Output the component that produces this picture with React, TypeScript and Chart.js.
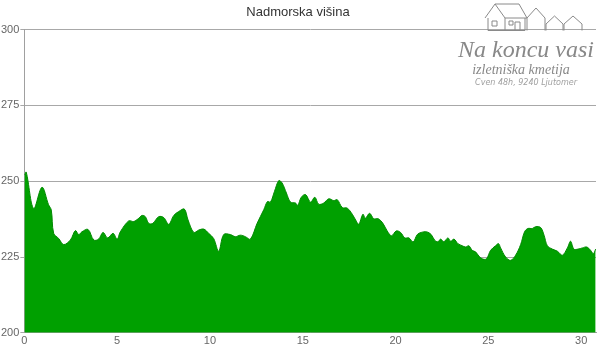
import React, { useEffect, useRef } from "react";
import { Chart, registerables } from "chart.js";

Chart.register(...registerables);

const chartTitle = "Nadmorska višina";
const yTicks = [200, 225, 250, 275, 300];
const xTickStep = 5;

const distanceKm = [
  0, 0.1, 0.5, 0.95, 1.3, 1.45, 1.58, 1.85, 2.12, 2.48, 2.75, 2.93, 3.1, 3.43, 3.74, 4.0, 4.24, 4.49, 4.78, 5.0,
  5.17, 5.62, 5.89, 6.13, 6.34, 6.52, 6.7, 6.92, 7.24, 7.51, 7.78, 8.05, 8.32, 8.62, 8.82, 9.13, 9.4, 9.67, 9.93,
  10.2, 10.47, 10.74, 11.1, 11.37, 11.64, 11.91, 12.18, 12.54, 12.9, 13.1, 13.26, 13.48, 13.71, 13.89, 14.12,
  14.34, 14.61, 14.73, 14.92, 15.15, 15.42, 15.65, 15.86, 16.13, 16.4, 16.67, 16.86, 17.13, 17.4, 17.67, 17.85,
  18.02, 18.24, 18.38, 18.6, 18.83, 19.07, 19.32, 19.55, 19.78, 20.04, 20.27, 20.5, 20.72, 20.95, 21.17, 21.38,
  21.67, 21.92, 22.1, 22.28, 22.43, 22.6, 22.82, 22.97, 23.15, 23.36, 23.6, 23.77, 23.95, 24.13, 24.31, 24.49,
  24.67, 24.9, 25.12, 25.39, 25.55, 25.66, 25.93, 26.2, 26.47, 26.74, 26.95, 27.13, 27.37, 27.55, 27.82, 28.0,
  28.18, 28.45, 28.72, 28.99, 29.26, 29.43, 29.61, 29.83, 30.07, 30.3, 30.51, 30.66, 30.78,
];

const elevationM = [
  252, 253, 241, 248, 242.3, 240.5, 232.8, 231.1, 229.1, 230.6, 233.7, 232.4, 233.3, 234.1, 230.6, 230.9, 233.1,
  231.3, 232.8, 230.9, 233.3, 236.9, 236.7, 237.6, 238.7, 238.3, 236.1, 236.1, 238.3, 238, 235.8, 238.7, 240,
  240.8, 237.2, 233.1, 233.9, 234.2, 232.8, 231.1, 226.9, 232.4, 232.4, 231.7, 232.2, 231.7, 230.9, 236.1, 240.6,
  243.3, 243.1, 246.7, 250.2, 249.4, 246.1, 243.1, 242.8, 242, 244.7, 245.6, 243.1, 244.7, 242.4, 242.8, 244.2,
  243.6, 243.9, 241.3, 241.1, 239.1, 237.2, 235.8, 239.1, 237.8, 239.4, 237.6, 237.6, 236.1, 233.6, 232, 233.6,
  233.1, 231.3, 231.3, 230, 232.4, 233.1, 233.3, 232.4, 230.6, 230, 230.9, 230, 231.3, 230.2, 230.9, 229.4, 228.7,
  228.3, 228.7, 227.2, 226.7, 225.3, 224.4, 224.4, 227.2, 228.7, 229.4, 228, 225, 223.9, 225.6, 229.1, 233.3,
  234.4, 234.4, 235, 234.7, 232.2, 228.7, 227.6, 226.9, 225.6, 228, 230.2, 227.6, 227.6, 228, 228.3, 227.2, 226.1,
  227.6,
];

const logoTitle = "Na koncu vasi";
const logoSubtitle = "izletniška kmetija";
const logoAddress = "Cven 48h, 9240 Ljutomer";

const logoPlugin = {
  id: "logo",
  afterDraw(chart: any) {
    const ctx = chart.ctx as CanvasRenderingContext2D;
    ctx.save();
    ctx.strokeStyle = "#8a8a8a";
    ctx.fillStyle = "#888";
    ctx.lineWidth = 1;
    // big house
    ctx.beginPath();
    ctx.moveTo(485, 18);
    ctx.lineTo(495, 4);
    ctx.lineTo(505, 18);
    ctx.moveTo(495, 4);
    ctx.lineTo(519, 4);
    ctx.lineTo(527, 18);
    ctx.lineTo(505, 18);
    ctx.moveTo(488, 18);
    ctx.lineTo(488, 30.5);
    ctx.lineTo(525, 30.5);
    ctx.lineTo(525, 18);
    ctx.moveTo(505, 18);
    ctx.lineTo(505, 30.5);
    ctx.rect(492, 21, 5, 5);
    ctx.rect(509, 21, 4, 4);
    ctx.rect(515, 22, 5, 8.5);
    ctx.stroke();
    // small houses
    const houses = [
      [527, 545, 18, 8],
      [546, 563, 24, 16],
      [564, 582, 24, 16],
    ];
    houses.forEach(([l, r, eave, peak]) => {
      ctx.beginPath();
      ctx.moveTo(l, 30.5);
      ctx.lineTo(l, eave);
      ctx.lineTo((l + r) / 2, peak);
      ctx.lineTo(r, eave);
      ctx.lineTo(r, 30.5);
      ctx.stroke();
    });
    ctx.textAlign = "center";
    ctx.textBaseline = "alphabetic";
    ctx.font = "italic 24px 'Liberation Serif', serif";
    ctx.fillText(logoTitle, 526, 57);
    ctx.font = "italic 14px 'Liberation Serif', serif";
    ctx.fillText(logoSubtitle, 521, 74);
    ctx.font = "italic 8px 'DejaVu Sans', sans-serif";
    ctx.fillStyle = "#a0a0a0";
    ctx.fillText(logoAddress, 526, 85);
    ctx.restore();
  },
};

export default function App() {
  const canvasRef = useRef<HTMLCanvasElement | null>(null);

  useEffect(() => {
    if (!canvasRef.current) return;
    const points = distanceKm.map((x, i) => ({ x, y: elevationM[i] }));
    const chart = new Chart(canvasRef.current, {
      type: "line",
      data: {
        datasets: [
          {
            data: points,
            backgroundColor: "#00a000",
            borderColor: "#008a00",
            borderWidth: 1,
            fill: "start",
            pointRadius: 0,
            tension: 0.35,
          },
        ],
      },
      options: {
        animation: false,
        responsive: false,
        layout: { padding: { left: 0, right: 4, top: 0, bottom: 0 } },
        plugins: {
          legend: { display: false },
          tooltip: { enabled: false },
          title: {
            display: true,
            text: chartTitle,
            color: "#333",
            font: { family: "'Liberation Sans', Arial, sans-serif", size: 13, weight: "normal" },
            padding: { top: 5, bottom: 9 },
          },
        },
        scales: {
          x: {
            type: "linear",
            min: 0,
            max: 30.8,
            grid: { display: false, drawTicks: false },
            border: { display: true, color: "#a0a0a0" },
            ticks: {
              stepSize: xTickStep,
              includeBounds: false,
              color: "#666",
              padding: 2,
              maxRotation: 0,
              font: { family: "'Liberation Sans', Arial, sans-serif", size: 11 },
            },
          },
          y: {
            min: yTicks[0],
            max: yTicks[yTicks.length - 1],
            grid: { color: "#a8a8a8", tickLength: 4, drawTicks: true },
            border: { display: true, color: "#a0a0a0" },
            afterBuildTicks: (scale: any) => {
              scale.ticks = yTicks.map((v) => ({ value: v }));
            },
            ticks: {
              color: "#666",
              padding: 1,
              font: { family: "'Liberation Sans', Arial, sans-serif", size: 11 },
            },
          },
        },
      },
      plugins: [logoPlugin],
    } as any);
    return () => chart.destroy();
  }, []);

  return (
    <div style={{ position: "absolute", left: 0, top: 0, width: 600, height: 350, background: "#fff" }}>
      <canvas ref={canvasRef} width={600} height={350} />
    </div>
  );
}
